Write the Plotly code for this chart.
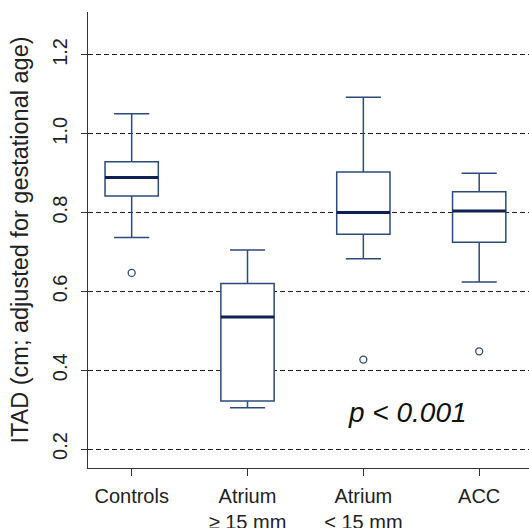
import plotly.graph_objects as go

# ---- data ----
categories = ["Controls", "Atrium<br>≥ 15 mm", "Atrium<br>< 15 mm", "ACC"]
positions = [1, 2, 3, 4]
lower_whisker = [0.737, 0.305, 0.683, 0.624]
q1_values = [0.842, 0.322, 0.745, 0.725]
medians = [0.889, 0.535, 0.800, 0.804]
q3_values = [0.929, 0.620, 0.903, 0.853]
upper_whisker = [1.051, 0.705, 1.093, 0.900]
outlier_pos = [1, 3, 4]
outlier_values = [0.647, 0.427, 0.448]
y_ticks = [0.2, 0.4, 0.6, 0.8, 1.0, 1.2]
y_tick_text = ["0.2", "0.4", "0.6", "0.8", "1.0", "1.2"]
p_text = "p < 0.001"

BOX_COLOR = "#2d4a7c"
MEDIAN_COLOR = "#0e2150"
BOX_WIDTH = 0.46
FONT = "Arial, 'Liberation Sans', Helvetica, sans-serif"

fig = go.Figure()

fig.add_trace(go.Box(
    x=positions,
    q1=q1_values,
    median=medians,
    q3=q3_values,
    lowerfence=lower_whisker,
    upperfence=upper_whisker,
    width=BOX_WIDTH,
    whiskerwidth=0.66,
    fillcolor="white",
    line=dict(color=BOX_COLOR, width=1.5),
    boxpoints=False,
    showlegend=False,
    hoverinfo="skip",
))

# thicker median lines
mx, my = [], []
for p, m in zip(positions, medians):
    mx += [p - BOX_WIDTH / 2, p + BOX_WIDTH / 2, None]
    my += [m, m, None]
fig.add_trace(go.Scatter(
    x=mx, y=my, mode="lines",
    line=dict(color=MEDIAN_COLOR, width=3),
    showlegend=False, hoverinfo="skip",
))

# outliers
fig.add_trace(go.Scatter(
    x=outlier_pos, y=outlier_values, mode="markers",
    marker=dict(symbol="circle-open", size=7, color=BOX_COLOR, line=dict(width=1.3)),
    showlegend=False, hoverinfo="skip",
))

fig.add_annotation(
    x=3.38, y=0.292, xref="x", yref="y",
    text="<i>" + p_text + "</i>", showarrow=False,
    font=dict(size=28, color="#111111", family=FONT),
    xanchor="center", yanchor="middle",
)

fig.update_layout(
    width=529, height=528,
    margin=dict(l=88, r=0, t=12, b=60),
    paper_bgcolor="white", plot_bgcolor="white",
    font=dict(family=FONT, color="#222222"),
    xaxis=dict(
        range=[0.623, 4.43],
        tickvals=positions, ticktext=categories,
        tickfont=dict(size=20, color="#222222"),
        ticks="outside", ticklen=7, tickwidth=1.2, tickcolor="#333333",
        showline=True, linecolor="#333333", linewidth=1.3,
        showgrid=False, zeroline=False,
        ticklabelstandoff=3,
        automargin=False,
    ),
    yaxis=dict(
        range=[0.152, 1.309],
        tickvals=y_ticks, ticktext=y_tick_text,
        tickangle=-90,
        tickfont=dict(size=20, color="#222222"),
        ticks="outside", ticklen=6, tickwidth=1.2, tickcolor="#333333",
        showline=True, linecolor="#333333", linewidth=1.3,
        showgrid=True, gridcolor="#222222", gridwidth=1.3, griddash="5px,3px",
        zeroline=False,
        ticklabelstandoff=6,
        automargin=False,
        title=dict(text="ITAD (cm; adjusted for gestational age)",
                   font=dict(size=23.5, color="#222222"), standoff=13),
    ),
)

fig.write_html(
    "out.html",
    config={"displayModeBar": False},
    post_script="document.body.style.margin='0';document.body.style.overflow='hidden';",
)
